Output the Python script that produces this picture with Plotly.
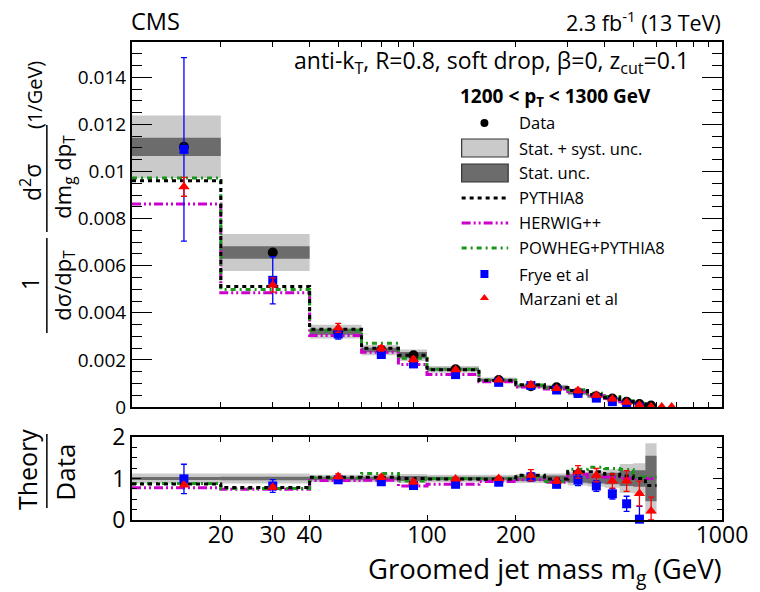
import plotly.graph_objects as go

# ---------------- data ----------------
edges = [10, 20, 40, 60, 80, 100, 150, 200, 250, 300, 350, 400, 450, 500, 550, 600]
data = [11.05, 6.56, 3.20, 2.42, 2.20, 1.60, 1.15, 0.88, 0.84, 0.60, 0.46, 0.36, 0.22, 0.13, 0.06]  # x1e-3
stat_rel = [0.035, 0.04, 0.04, 0.04, 0.06, 0.04, 0.04, 0.06, 0.07, 0.10, 0.12, 0.14, 0.18, 0.20, 0.55]
tot_rel = [0.12, 0.12, 0.09, 0.09, 0.11, 0.09, 0.09, 0.11, 0.12, 0.17, 0.19, 0.22, 0.35, 0.37, 0.85]
pythia = [9.61, 5.12, 3.30, 2.49, 2.20, 1.584, 1.127, 0.95, 0.832, 0.696, 0.534, 0.396, 0.233, 0.130, 0.050]
herwig = [8.62, 4.85, 3.04, 2.32, 1.80, 1.376, 1.070, 0.854, 0.764, 0.660, 0.478, 0.374, 0.220, 0.130, 0.060]
powheg = [9.72, 4.99, 3.26, 2.71, 2.07, 1.600, 1.150, 0.933, 0.781, 0.732, 0.584, 0.446, 0.268, 0.135, 0.062]
frye = [10.94, 5.38, 3.10, 2.23, 1.83, 1.376, 1.047, 0.915, 0.722, 0.576, 0.377, 0.227, 0.086, 0.0026]
frye_err = [3.9, 1.0, 0.22, 0.12, 0.10, 0.05, 0.04, 0.09, 0.06, 0.08, 0.06, 0.045, 0.04, 0.04]
marz_edges = [10, 20, 40, 60, 80, 100, 150, 200, 250, 300, 350, 400, 450, 500, 550, 600, 650, 700]
marzani = [9.35, 5.18, 3.36, 2.49, 2.02, 1.584, 1.150, 0.950, 0.790, 0.696, 0.497, 0.338, 0.207, 0.083, 0.013, 0.004, 0.002]
marz_err = [0.40, 0.30, 0.19, 0.12, 0.10, 0.06, 0.05, 0.12, 0.05, 0.09, 0.074, 0.061, 0.055, 0.039, 0.020, 0.003, 0.002]

yticks_main = [0, 0.002, 0.004, 0.006, 0.008, 0.010, 0.012, 0.014]
yticks_main_txt = ["0", "0.002", "0.004", "0.006", "0.008", "0.01", "0.012", "0.014"]
xtick_lab_vals = [20, 30, 40, 100, 200, 1000]
xtick_lab_txt = ["20", "30", "40", "100", "200", "1000"]
xtick_minor = [20, 30, 40, 50, 60, 70, 80, 90, 200, 300, 400, 500, 600, 700, 800, 900]
x_major = [100]

# ---------------- geometry helpers ----------------
W, H = 760, 592
L, R, T, B = 132, 728, 42, 520
MAIN_BOT, RAT_TOP = 407, 437
def px(x):
    return (x - L) / (R - L)
def py(y):
    return (B - y) / (B - T)

FONT = "Open Sans"
C_LIGHT, C_DARK = "#cacaca", "#6c6c6c"
C_HER, C_POW = "#cc00cc", "#1a961a"
DASH_P = "4px,4px"
DASH_H = "9px,3px,2px,3px,2px,3px"
DASH_W = "5px,4px,2px,4px"

S = 1e-3
centers = [(edges[i] + edges[i + 1]) / 2 for i in range(len(edges) - 1)]
mcenters = [(marz_edges[i] + marz_edges[i + 1]) / 2 for i in range(len(marz_edges) - 1)]

def rects(lo, hi, ed):
    xs, ys = [], []
    for i in range(len(lo)):
        e0, e1 = ed[i], ed[i + 1]
        xs += [e0, e1, e1, e0, e0, None]
        ys += [lo[i], lo[i], hi[i], hi[i], lo[i], None]
    return xs, ys

def step(vals, ed):
    return list(ed[:len(vals) + 1]), list(vals) + [vals[-1]]

fig = go.Figure()

def add_panel(xa, ya, ratio):
    n = len(data)
    if ratio:
        d = [1.0] * n
        f = lambda arr: [arr[i] / data[i] for i in range(min(len(arr), n))]
    else:
        d = [v * S for v in data]
        f = lambda arr: [v * S for v in arr]
    lo = [d[i] * (1 - tot_rel[i]) for i in range(n)]
    hi = [d[i] * (1 + tot_rel[i]) for i in range(n)]
    xs, ys = rects(lo, hi, edges)
    fig.add_trace(go.Scatter(x=xs, y=ys, fill="toself", fillcolor=C_LIGHT, line=dict(width=0),
                             mode="lines", xaxis=xa, yaxis=ya, hoverinfo="skip", showlegend=False))
    lo = [d[i] * (1 - stat_rel[i]) for i in range(n)]
    hi = [d[i] * (1 + stat_rel[i]) for i in range(n)]
    xs, ys = rects(lo, hi, edges)
    fig.add_trace(go.Scatter(x=xs, y=ys, fill="toself", fillcolor=C_DARK, line=dict(width=0),
                             mode="lines", xaxis=xa, yaxis=ya, hoverinfo="skip", showlegend=False))
    for arr, col, dash in [(herwig, C_HER, DASH_H), (powheg, C_POW, DASH_W), (pythia, "black", DASH_P)]:
        sx, sy = step(f(arr), edges)
        fig.add_trace(go.Scatter(x=sx, y=sy, mode="lines", line=dict(color=col, width=3, dash=dash, shape="hv"),
                                 xaxis=xa, yaxis=ya, showlegend=False))
    if not ratio:
        fig.add_trace(go.Scatter(x=centers, y=d, mode="markers",
                                 marker=dict(symbol="circle", size=10, color="black"),
                                 xaxis=xa, yaxis=ya, showlegend=False))
    fv = f(frye)
    fe = f(frye_err)
    fig.add_trace(go.Scatter(x=centers[:len(fv)], y=fv, mode="markers",
                             marker=dict(symbol="square", size=9, color="#0000ff"),
                             error_y=dict(type="data", array=fe, arrayminus=[min(fe[i], fv[i]) for i in range(len(fv))],
                                          color="#0000ff", thickness=1.3, width=3),
                             cliponaxis=not ratio, xaxis=xa, yaxis=ya, showlegend=False))
    mv = f(marzani)
    me = f(marz_err)
    mc = mcenters[:len(mv)]
    fig.add_trace(go.Scatter(x=mc, y=mv, mode="markers",
                             marker=dict(symbol="triangle-up", size=10, color="#ff0000"),
                             error_y=dict(type="data", array=me, arrayminus=[min(me[i], mv[i]) for i in range(len(mv))],
                                          color="#ff0000", thickness=1.3, width=3),
                             cliponaxis=not ratio, xaxis=xa, yaxis=ya, showlegend=False))

add_panel("x", "y", False)
add_panel("x2", "y2", True)

# ---------------- legend (manual, pixel placement) ----------------
leg_x0, leg_x1, leg_mx, leg_tx = 465, 512, 488, 521
annotations = []
shapes = []
def txt(x, y, s, size, anchor="left", angle=0):
    annotations.append(dict(x=px(x), y=py(y), xref="paper", yref="paper", text=s, showarrow=False,
                            xanchor=anchor, yanchor="middle", textangle=angle,
                            font=dict(family=FONT, size=size, color="black")))

rows = [("Data", 123), ("Stat. + syst. unc.", 148), ("Stat. unc.", 173), ("PYTHIA8", 198),
        ("HERWIG++", 223), ("POWHEG+PYTHIA8", 248), ("Frye et al", 274), ("Marzani et al", 298)]
for s, y in rows:
    txt(leg_tx, y, s, 16.5)
for (y0, y1, col) in [(139, 157, C_LIGHT), (164, 182, C_DARK)]:
    shapes.append(dict(type="rect", xref="paper", yref="paper", x0=px(leg_x0), x1=px(leg_x1), y0=py(y1), y1=py(y0),
                       fillcolor=col, line=dict(color="#333333", width=1.2)))
for (y, col, dash) in [(198, "black", DASH_P), (223, C_HER, DASH_H), (248, C_POW, DASH_W)]:
    shapes.append(dict(type="line", xref="paper", yref="paper", x0=px(leg_x0), x1=px(leg_x1), y0=py(y), y1=py(y),
                       line=dict(color=col, width=3, dash=dash)))
fig.add_trace(go.Scatter(x=[leg_mx], y=[123], mode="markers", marker=dict(symbol="circle", size=8, color="black"),
                         xaxis="x5", yaxis="y5", showlegend=False))
fig.add_trace(go.Scatter(x=[leg_mx], y=[274], mode="markers", marker=dict(symbol="square", size=8, color="#0000ff"),
                         xaxis="x5", yaxis="y5", showlegend=False))
fig.add_trace(go.Scatter(x=[leg_mx], y=[298], mode="markers", marker=dict(symbol="triangle-up", size=8, color="#ff0000"),
                         xaxis="x5", yaxis="y5", showlegend=False))

txt(461, 97, "<b>1200 &lt; p<sub>T</sub> &lt; 1300 GeV</b>", 19)
txt(697, 61, "anti-k<sub>T</sub>, R=0.8, soft drop, β=0, z<sub>cut</sub>=0.1", 23, anchor="right")
txt(129, 21, "CMS", 23.5)
txt(729, 21, "2.3 fb<sup>-1</sup> (13 TeV)", 21.5, anchor="right")
txt(730, 570, "Groomed jet mass m<sub>g</sub> (GeV)", 27.5, anchor="right")

txt(33, 95, "(1/GeV)", 20, anchor="center", angle=-90)
txt(30, 183, "d<sup>2</sup>σ", 23, anchor="center", angle=-90)
txt(63, 177, "dm<sub>g</sub> dp<sub>T</sub>", 22, anchor="center", angle=-90)
txt(29, 284, "1", 23, anchor="center", angle=-90)
txt(63, 285, "dσ/dp<sub>T</sub>", 22, anchor="center", angle=-90)
for (y0, y1) in [(125, 232), (238, 333), (434, 508)]:
    shapes.append(dict(type="line", xref="paper", yref="paper", x0=px(46), x1=px(46), y0=py(y0), y1=py(y1),
                       line=dict(color="black", width=1.5)))
txt(26, 470, "Theory", 25, anchor="center", angle=-90)
txt(64, 472, "Data", 26, anchor="center", angle=-90)

frame = dict(showline=True, linecolor="black", linewidth=2, mirror="ticks", ticks="inside",
             tickcolor="black", tickwidth=1.2, showgrid=False, zeroline=False)
overlay = dict(type="log", range=[1, 3], ticks="inside", tickcolor="black", tickwidth=1.2,
               showticklabels=False, mirror="ticks", showline=False, showgrid=False, zeroline=False)
fig.update_layout(
    width=W, height=H, margin=dict(l=L, r=W - R, t=T, b=H - B),
    paper_bgcolor="white", plot_bgcolor="rgba(0,0,0,0)", showlegend=False,
    font=dict(family=FONT, color="black"),
    xaxis=dict(**frame, type="log", range=[1, 3], domain=[0, 1], anchor="y", tickvals=xtick_minor, ticklen=5,
               showticklabels=False),
    xaxis3=dict(**overlay, overlaying="x", anchor="y", tickvals=x_major, ticklen=10),
    yaxis=dict(**frame, domain=[py(MAIN_BOT), 1], anchor="x", range=[0, 0.0155], ticklen=20,
               tickvals=yticks_main, ticktext=yticks_main_txt, tickfont=dict(size=19, family=FONT),
               minor=dict(dtick=0.0005, ticks="inside", ticklen=10, tickcolor="black", tickwidth=1.2)),
    xaxis2=dict(**frame, type="log", range=[1, 3], domain=[0, 1], anchor="y2", tickvals=xtick_lab_vals,
                ticktext=xtick_lab_txt, ticklen=5, tickfont=dict(size=23, family=FONT), ticklabelstandoff=-7),
    xaxis4=dict(**overlay, overlaying="x2", anchor="y2", tickvals=x_major, ticklen=9),
    xaxis6=dict(**overlay, overlaying="x2", anchor="y2", tickvals=xtick_minor, ticklen=5),
    yaxis2=dict(**frame, domain=[0, py(RAT_TOP)], anchor="x2", range=[0, 2], ticklen=9,
                tickvals=[0, 1, 2], tickfont=dict(size=23, family=FONT),
                minor=dict(dtick=0.25, ticks="inside", ticklen=5, tickcolor="black", tickwidth=1.2)),
    xaxis5=dict(range=[L, R], domain=[0, 1], anchor="y5", visible=False, fixedrange=True),
    yaxis5=dict(range=[B, T], domain=[0, 1], anchor="x5", visible=False, fixedrange=True),
    annotations=annotations, shapes=shapes,
)
fig.write_html("out.html")
